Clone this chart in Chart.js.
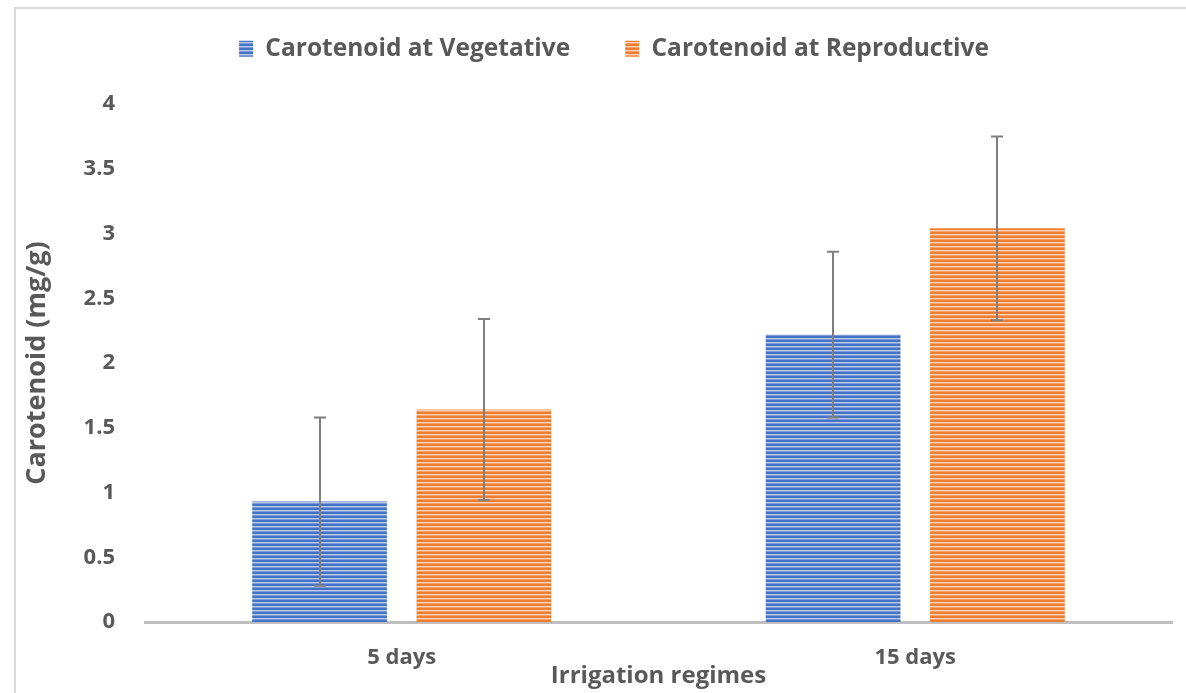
<!DOCTYPE html>
<html>
<head>
<meta charset="utf-8">
<script src="https://cdn.jsdelivr.net/npm/chart.js@4.4.1/dist/chart.umd.min.js"></script>
<style>
  html, body { margin: 0; padding: 0; background: #ffffff; }
  #wrap { width: 1186px; height: 693px; position: relative; }
</style>
</head>
<body>
<div id="wrap"><canvas id="c" width="1186" height="693"></canvas></div>
<script>
const categories = ['5 days', '15 days'];
const seriesNames = ['Carotenoid at Vegetative', 'Carotenoid at Reproductive'];
const vegetativeValues = [0.93, 2.22];
const reproductiveValues = [1.64, 3.04];
const vegetativeErrors = [0.65, 0.64];
const reproductiveErrors = [0.70, 0.71];
const yTickValues = [0, 0.5, 1, 1.5, 2, 2.5, 3, 3.5, 4];
const yTickLabels = ['0', '0.5', '1', '1.5', '2', '2.5', '3', '3.5', '4'];

const FONT = 'Open Sans';

function stripePattern(dark, light, mid) {
  const c = document.createElement('canvas');
  c.width = 8; c.height = 4;
  const x = c.getContext('2d');
  x.fillStyle = dark; x.fillRect(0, 0, 8, 2);
  x.fillStyle = light; x.fillRect(0, 2, 8, 1);
  x.fillStyle = mid; x.fillRect(0, 3, 8, 1);
  return x.createPattern(c, 'repeat');
}
const ctx = document.getElementById('c').getContext('2d');
const bluePat = stripePattern('#4472C4', '#b9cbec', '#7c9bd6');
const orangePat = stripePattern('#ED7D31', '#fad2b6', '#f3a26c');

const errorBars = {
  id: 'errorBars',
  afterDatasetsDraw(chart) {
    const c = chart.ctx;
    const y = chart.scales.y;
    const errs = [vegetativeErrors, reproductiveErrors];
    c.save();
    c.strokeStyle = '#7f7f7f';
    c.lineWidth = 2;
    chart.data.datasets.forEach((ds, i) => {
      const meta = chart.getDatasetMeta(i);
      meta.data.forEach((bar, j) => {
        const v = ds.data[j], e = errs[i][j];
        const yt = y.getPixelForValue(v + e), yb = y.getPixelForValue(v - e);
        const xx = Math.round(bar.x);
        c.beginPath();
        c.moveTo(xx, yt); c.lineTo(xx, yb);
        c.moveTo(xx - 6, yt); c.lineTo(xx + 6, yt);
        c.moveTo(xx - 6, yb); c.lineTo(xx + 6, yb);
        c.stroke();
      });
    });
    c.restore();
  }
};

const frame = {
  id: 'frame',
  beforeDraw(chart) {
    const c = chart.ctx;
    c.save();
    c.strokeStyle = '#d9d9d9';
    c.lineWidth = 2;
    c.beginPath();
    c.moveTo(15, 693); c.lineTo(15, 8); c.lineTo(1186, 8);
    c.stroke();
    c.restore();
  }
};

const legendShift = {
  id: 'legendShift',
  afterLayout(chart) {
    const l = chart.legend;
    if (l) { l.left += 28; l.right += 28; l.top -= 33; l.bottom -= 33; }
  }
};

new Chart(ctx, {
  type: 'bar',
  data: {
    labels: categories,
    datasets: [
      { label: seriesNames[0], data: vegetativeValues, backgroundColor: bluePat, borderWidth: 0,
        categoryPercentage: 0.64, barPercentage: 0.82 },
      { label: seriesNames[1], data: reproductiveValues, backgroundColor: orangePat, borderWidth: 0,
        categoryPercentage: 0.64, barPercentage: 0.82 }
    ]
  },
  options: {
    responsive: false,
    animation: false,
    devicePixelRatio: 1,
    layout: { padding: { top: 0, right: 14, left: 0, bottom: 0 } },
    plugins: {
      legend: {
        position: 'top',
        labels: {
          color: '#595959',
          font: { family: FONT, size: 24.5, weight: 'bold' },
          boxWidth: 14, boxHeight: 16,
          padding: 55
        }
      },
      tooltip: { enabled: false }
    },
    scales: {
      x: {
        grid: { display: false, drawTicks: false },
        border: { display: true, color: '#bfbfbf', width: 3 },
        ticks: { color: '#595959', font: { family: FONT, size: 22, weight: 'bold' }, padding: 23 },
        title: { display: true, text: 'Irrigation regimes', color: '#595959',
                 font: { family: FONT, size: 24, weight: 'bold' }, padding: { top: 0, bottom: 2 } },
        afterFit(s) { s.height = 71; }
      },
      y: {
        min: 0, max: 4,
        grid: { display: false, drawTicks: false },
        border: { display: false },
        afterBuildTicks(s) { s.ticks = yTickValues.map(v => ({ value: v })); },
        ticks: {
          color: '#595959', font: { family: FONT, size: 22, weight: 'bold' }, padding: 30,
          callback(value) { const i = yTickValues.indexOf(value); return i >= 0 ? yTickLabels[i] : ''; }
        },
        title: { display: true, text: 'Carotenoid (mg/g)', color: '#595959',
                 font: { family: FONT, size: 27, weight: 'bold' }, padding: { top: 21, bottom: 0 } },
        afterFit(s) { s.width = 145; s.paddingTop = 104; }
      }
    }
  },
  plugins: [frame, errorBars, legendShift]
});
</script>
</body>
</html>
